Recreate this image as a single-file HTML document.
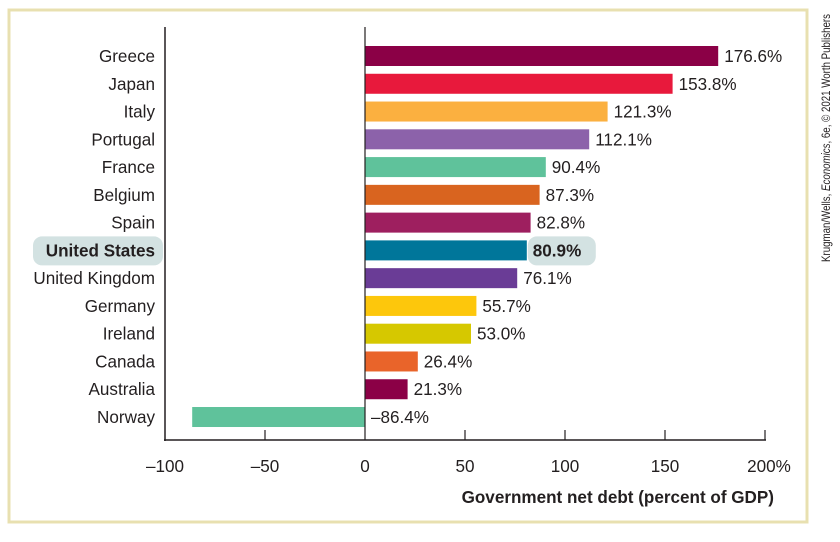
<!DOCTYPE html>
<html><head><meta charset="utf-8"><style>
body{margin:0;background:#fff;width:840px;height:537px;overflow:hidden}
svg text{font-family:"Liberation Sans",sans-serif;fill:#231f20}
</style></head><body>
<svg id="chart" width="840" height="537">
<rect x="9" y="10" width="798" height="512" fill="none" stroke="#e8e0b0" stroke-width="3"/>
<text transform="translate(830,262) rotate(-90)" font-size="12" textLength="248" lengthAdjust="spacingAndGlyphs">Krugman/Wells, <tspan font-style="italic">Economics</tspan>, 6e, © 2021 Worth Publishers</text>
</svg>
<script>
const countries=["Greece","Japan","Italy","Portugal","France","Belgium","Spain","United States","United Kingdom","Germany","Ireland","Canada","Australia","Norway"];
const values=[176.6,153.8,121.3,112.1,90.4,87.3,82.8,80.9,76.1,55.7,53.0,26.4,21.3,-86.4];
const labels=["176.6%","153.8%","121.3%","112.1%","90.4%","87.3%","82.8%","80.9%","76.1%","55.7%","53.0%","26.4%","21.3%","\u201386.4%"];
const colors=["#8b0046","#e8193c","#fbb040","#8c62aa","#5fc29b","#d9641f","#9e1f5f","#00769a","#6a3c96","#fdc70c","#d6c800","#e9642a","#8b0046","#5fc29b"];
const ticks=[-100,-50,0,50,100,150,200];
const tickLabels=["\u2013100","\u201350","0","50","100","150","200%"];
const NS="http://www.w3.org/2000/svg";
const svg=document.getElementById('chart');
const x=v=>365+(v*2);
const yc=i=>56+i*27.77;
const SX=0.95, FS=18;
function mk(t,a,txt){const e=document.createElementNS(NS,t);for(const k in a)e.setAttribute(k,a[k]);if(txt!==undefined)e.textContent=txt;svg.appendChild(e);return e;}
function tx(px,py,a,txt){a.transform=`translate(${px},${py}) scale(${SX},1)`;a.x=0;a.y=0;a["font-size"]=FS;return mk('text',a,txt);}
const hi=countries.indexOf("United States");
let e=mk('rect',{x:33,y:yc(hi)-14,width:130,height:29,rx:9,fill:"#d3e2e2"});


e=mk('rect',{x:x(values[hi])+1,y:yc(hi)-14,width:68,height:29,rx:9,fill:"#d3e2e2"});


countries.forEach((c,i)=>{
  const v=values[i];
  const b=mk('rect',{x:Math.min(x(0),x(v)),y:yc(i)-10,width:Math.abs(x(v)-x(0)),height:20,fill:colors[i]});
  
  
  const bold=c==="United States";
  const l=tx(155,yc(i)+6,{"text-anchor":"end","font-weight":bold?"bold":"normal"},c);
  
  
  const vx=v>=0?x(v)+6:x(0)+6;
  const t=tx(vx,yc(i)+6,{"font-weight":bold?"bold":"normal"},labels[i]);
  
  
});
let a=mk('line',{x1:165,y1:27,x2:165,y2:441,stroke:"#231f20","stroke-width":1.5});


a=mk('line',{x1:164,y1:440,x2:766,y2:440,stroke:"#231f20","stroke-width":1.5});


a=mk('line',{x1:x(0),y1:27,x2:x(0),y2:440,stroke:"#231f20","stroke-width":1.2});


ticks.forEach((t,i)=>{
  if(t!==0&&t!==-100){const tk=mk('line',{x1:x(t),y1:430,x2:x(t),y2:440,stroke:"#231f20","stroke-width":1.2});
  
  }
  const tl=tx(x(t)+(i===6?4:0),472,{"text-anchor":"middle"},tickLabels[i]);
  
  
});
const ti=tx(774,503,{"text-anchor":"end","font-weight":"bold"},"Government net debt (percent of GDP)");


</script>
</body></html>
